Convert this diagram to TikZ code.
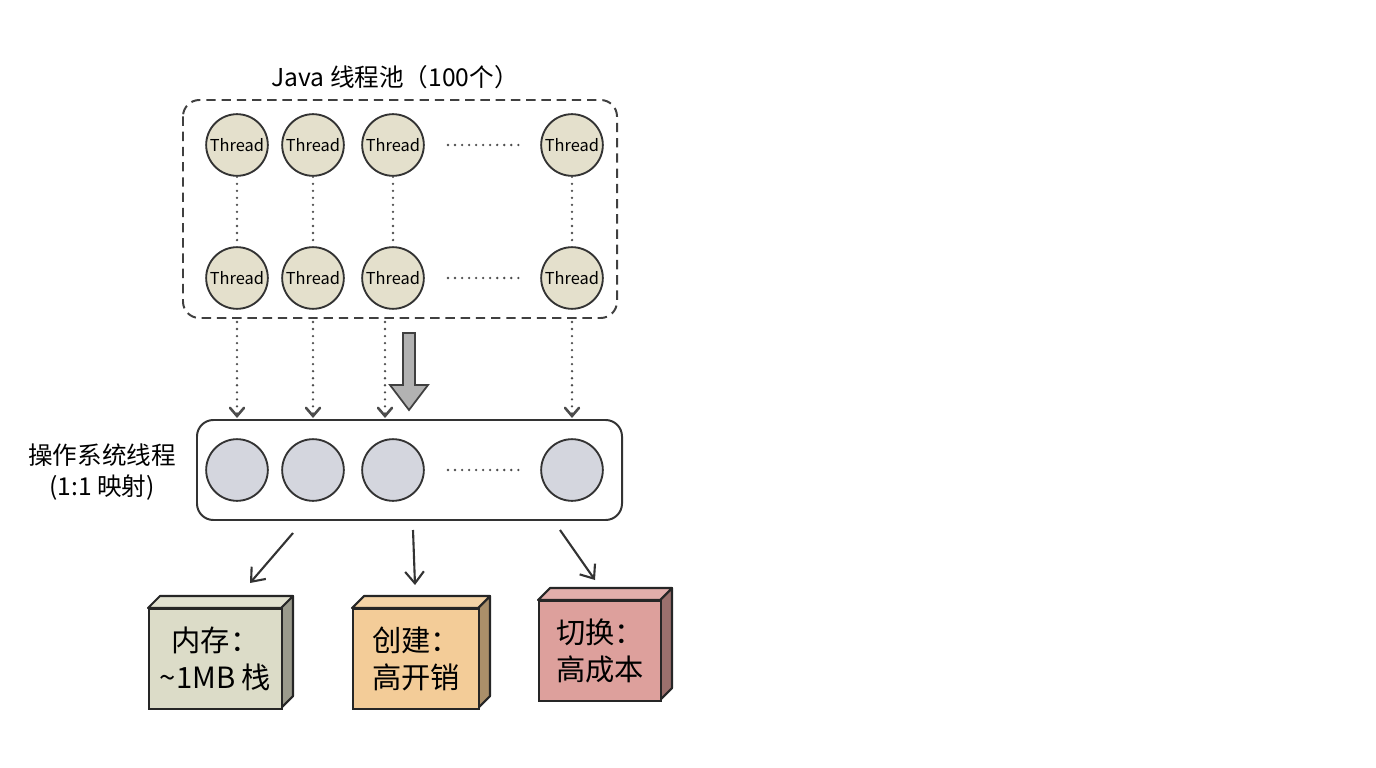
\documentclass[tikz,border=0pt]{standalone}
\usepackage{fontspec}
\setmainfont{Noto Sans CJK SC}
\usetikzlibrary{arrows.meta}
\definecolor{thrfill}{HTML}{E4E0CC}
\definecolor{osfill}{HTML}{D4D6DE}
\definecolor{memfill}{HTML}{DCDCC8}
\definecolor{crefill}{HTML}{F3CC98}
\definecolor{swfill}{HTML}{DDA09C}
\begin{document}
\begin{tikzpicture}[x=0.03cm,y=-0.03cm]
        \tikzstyle{thread}=[circle,line width=1.6pt,draw=black!80,fill=thrfill,minimum size=1.85cm,inner sep=0pt,font=\fontsize{14}{14}\selectfont]
        \tikzstyle{osthread}=[circle,line width=1.6pt,draw=black!80,fill=osfill,minimum size=1.85cm,inner sep=0pt]
        \tikzstyle{vdots}=[draw=black!70,line width=2.2pt,line cap=round,dash pattern=on 0pt off 6pt]
        \tikzstyle{map}=[draw=black!70,line width=2.2pt,line cap=round,dash pattern=on 0pt off 6pt,-{Straight Barb[length=7pt,width=12pt,line cap=round]}]
        \tikzstyle{cost}=[draw=black!80,line width=1.8pt,-{Straight Barb[length=10pt,width=16pt]}]
        \tikzstyle{label}=[font=\fontsize{21}{27}\selectfont,align=center]
        \tikzstyle{boxtext}=[font=\fontsize{25}{32}\selectfont,align=center]
       \useasboundingbox (0,0) rectangle (1376,768);
       % thread pool
       \node [label] (title) at (395,77) {Java 线程池（100个）};
       \draw [line width=1.7pt,dash pattern=on 8pt off 5pt,draw=black!75,rounded corners=14pt] (183,100) rectangle (617,318);
       \foreach \c/\x in {a/237,b/313,c/393,d/572} {
         \node [thread] (t1\c) at (\x,145) {Thread};
         \node [thread] (t2\c) at (\x,278) {Thread};
         \path[vdots] (t1\c) -- (t2\c);
       }
       \path[vdots] (t1c) ++(55,0) coordinate (h1s) -- ++(73,0) coordinate (h1e);
       \path[vdots] (t2c) ++(55,0) coordinate (h2s) -- ++(73,0) coordinate (h2e);
       % os threads
       \draw [line width=1.7pt,draw=black!80,rounded corners=14pt] (197,420) rectangle (622,520);
       \foreach \c/\x in {a/237,b/313,c/393,d/572} {
         \node [osthread] (o\c) at (\x,470) {};
       }
       \path[vdots] (oc) ++(55,0) -- ++(73,0);
       \node [label] (oslabel) at (102,472) {操作系统线程\\(1:1 映射)};
       % 1:1 mapping
       \coordinate (m1) at (237,322); \coordinate (n1) at (237,418);
       \coordinate (m2) at (313,322); \coordinate (n2) at (313,418);
       \coordinate (m3) at (385,322); \coordinate (n3) at (385,418);
       \coordinate (m4) at (572,322); \coordinate (n4) at (572,418);
       \foreach \i in {1,...,4} \path[map] (m\i) -- (n\i);
       \coordinate (bigs) at (409,333); \coordinate (bige) at (409,410);
       \draw [black!75,fill=black!30,line width=1.5pt] (403,333) -- (415,333) -- (415,385) -- (428,385) -- (bige) -- (390,385) -- (403,385) -- cycle;
       % costs
       \coordinate (c1s) at (293,533); \coordinate (c1e) at (250,583);
       \coordinate (c2s) at (413,530); \coordinate (c2e) at (415,585);
       \coordinate (c3s) at (560,530); \coordinate (c3e) at (595,580);
       \foreach \i in {1,2,3} \path[cost] (c\i s) -- (c\i e);
       \foreach \n/\x/\y/\w/\col/\txt in {mem/148/608/133/memfill/{内存：\\\textasciitilde1MB 栈},cre/352/608/126/crefill/{创建：\\高开销},sw/538/600/122/swfill/{切换：\\高成本}} {
         \draw [line width=1.8pt,black!85,fill=\col!70!black,line join=round] (\x+\w,\y) -- ++(12,-12) -- ++(0,100) -- ++(-12,12) -- cycle;
         \draw [line width=1.8pt,black!85,fill=\col!85!white,line join=round] (\x,\y) -- ++(12,-12) -- ++(\w,0) -- ++(-12,12) -- cycle;
         \node [boxtext,draw=black!85,line width=1.8pt,fill=\col,minimum width=\w*0.03cm,minimum height=3cm,anchor=north west] (\n) at (\x,\y) {\txt};
       }
\end{tikzpicture}
\end{document}
